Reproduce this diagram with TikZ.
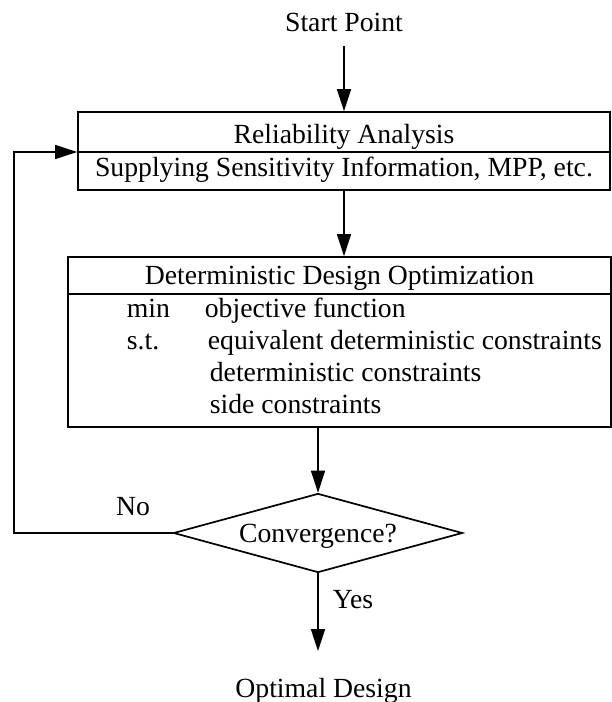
\documentclass[tikz,border=0pt]{standalone}
\usepackage{fontspec}
\setmainfont{Liberation Serif}
\usetikzlibrary{arrows.meta,shapes.geometric}
\begin{document}
\begin{tikzpicture}[x=1bp,y=-1bp,
  line width=1.7bp,
  txt/.style={inner sep=0pt, anchor=base, font=\fontsize{27.7bp}{32bp}\selectfont},
  ltxt/.style={txt, anchor=base west},
  boxnode/.style={draw, rectangle, inner sep=0pt},
  arr/.style={-{Triangle[length=22bp,width=14bp]}}]
\useasboundingbox (0,0) rectangle (612,702);

% texts outside
\node[txt] (start) at (344,32) {Start Point};
\node[txt] (opt) at (323.5,697) {Optimal Design};
\coordinate (optin) at (318,651);

% box 1
\node[boxnode, minimum width=532bp, minimum height=78bp] (box1) at (344,151) {};
\coordinate (d1) at (0,152);
\draw (box1.west |- d1) -- (box1.east |- d1);
\node[txt] (rel) at (344,143) {Reliability Analysis};
\node[txt] (sup) at (344,176) {Supplying Sensitivity Information, MPP, etc.};

% box 2
\node[boxnode, minimum width=543bp, minimum height=170bp] (box2) at (339.5,342) {};
\coordinate (d2) at (0,294);
\draw (box2.west |- d2) -- (box2.east |- d2);
\node[txt] (ddo) at (339.5,284) {Deterministic Design Optimization};
\node[ltxt] (min) at (126,317) {min};
\node[ltxt] (obj) at (204,317) {objective function};
\node[ltxt] (st) at (126,349) {s.t.};
\node[ltxt] (eq) at (207,349) {equivalent deterministic constraints};
\node[ltxt] (det) at (209,381) {deterministic constraints};
\node[ltxt] (side) at (209,413) {side constraints};

% decision
\node[draw, diamond, aspect=3.66, inner sep=0pt, minimum width=289bp, minimum height=79bp,
      text height=18bp, text depth=0bp,
      font=\fontsize{27.7bp}{32bp}\selectfont] (dia) at (318,533) {Convergence?};
\node[txt] (no) at (133,515) {No};
\node[ltxt] (yes) at (332,608) {Yes};
\coordinate (fb) at (14,152);

% connectors
\draw[arr, shorten <=13bp] (start.south) -- (box1.north);
\draw[arr] (box1.south) -- (box1.south |- box2.north);
\draw[arr] (box2.south -| dia.north) -- (dia.north);
\draw[arr] (dia.south) -- (optin);
\draw[arr] (dia.west) -| (fb) -- (box1.west |- d1);
\end{tikzpicture}
\end{document}
